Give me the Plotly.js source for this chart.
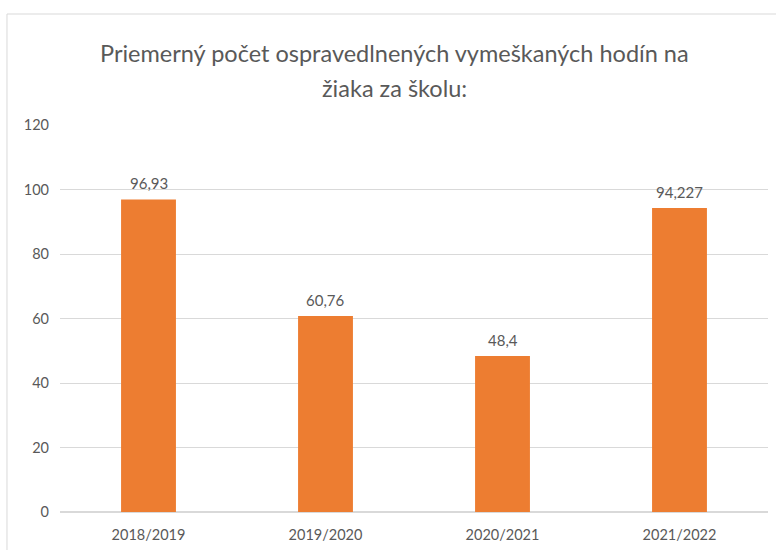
<!DOCTYPE html>
<html>
<head>
<meta charset="utf-8">
<script src="https://cdn.plot.ly/plotly-3.0.1.min.js"></script>
<style>html,body{margin:0;padding:0;background:#fff;}#chart{width:776px;height:550px;}</style>
</head>
<body>
<div id="chart"></div>
<script>
var categories = ["2018/2019", "2019/2020", "2020/2021", "2021/2022"];
var values = [96.93, 60.76, 48.4, 94.227];
var yTicks = [0, 20, 40, 60, 80, 100, 120];
var titleLines = ["Priemerný počet ospravedlnených vymeškaných hodín na", "žiaka za školu:"];

var labels = values.map(function (v) { return String(v).replace('.', ','); });
var font = "Lato, 'Open Sans', sans-serif";

var trace = {
  type: 'bar',
  x: categories,
  y: values,
  marker: {color: '#ED7D31'},
  hoverinfo: 'none'
};

var annotations = values.map(function (v, i) {
  return {
    x: categories[i], y: v, xref: 'x', yref: 'y',
    text: labels[i], showarrow: false,
    yanchor: 'bottom', yshift: 5,
    font: {family: font, size: 15, color: '#595959'}
  };
});
annotations.push({
  xref: 'paper', yref: 'paper', x: 0.472, y: 1.186, xanchor: 'center', yanchor: 'middle',
  text: titleLines[0], showarrow: false,
  font: {family: font, size: 23.5, color: '#595959'}
});
annotations.push({
  xref: 'paper', yref: 'paper', x: 0.472, y: 1.0956, xanchor: 'center', yanchor: 'middle',
  text: titleLines[1], showarrow: false,
  font: {family: font, size: 23.5, color: '#595959'}
});

var layout = {
  width: 776,
  height: 550,
  margin: {l: 60, r: 8, t: 125, b: 38},
  paper_bgcolor: '#ffffff',
  plot_bgcolor: '#ffffff',
  bargap: 0.69,
  showlegend: false,
  annotations: annotations,
  xaxis: {
    type: 'category',
    showgrid: false,
    showline: false,
    ticks: '',
    ticklabelstandoff: 12,
    tickfont: {family: font, size: 14.5, color: '#595959'}
  },
  yaxis: {
    range: [0, 120],
    tickvals: yTicks,
    showgrid: true,
    gridcolor: '#d9d9d9',
    gridwidth: 1,
    zeroline: true,
    zerolinecolor: '#d9d9d9',
    zerolinewidth: 1.5,
    showline: false,
    ticks: '',
    ticklabelstandoff: 10,
    tickfont: {family: font, size: 14.5, color: '#595959'}
  },
  shapes: [
    {type: 'line', xref: 'paper', yref: 'paper', x0: -0.0749, x1: -0.0749, y0: -0.15, y1: 1.2868,
     line: {color: '#d9d9d9', width: 1}},
    {type: 'line', xref: 'paper', yref: 'paper', x0: -0.0749, x1: 1.02, y0: 1.2868, y1: 1.2868,
     line: {color: '#d9d9d9', width: 1}}
  ]
};

Plotly.newPlot('chart', [trace], layout, {displayModeBar: false, staticPlot: true});
</script>
</body>
</html>
